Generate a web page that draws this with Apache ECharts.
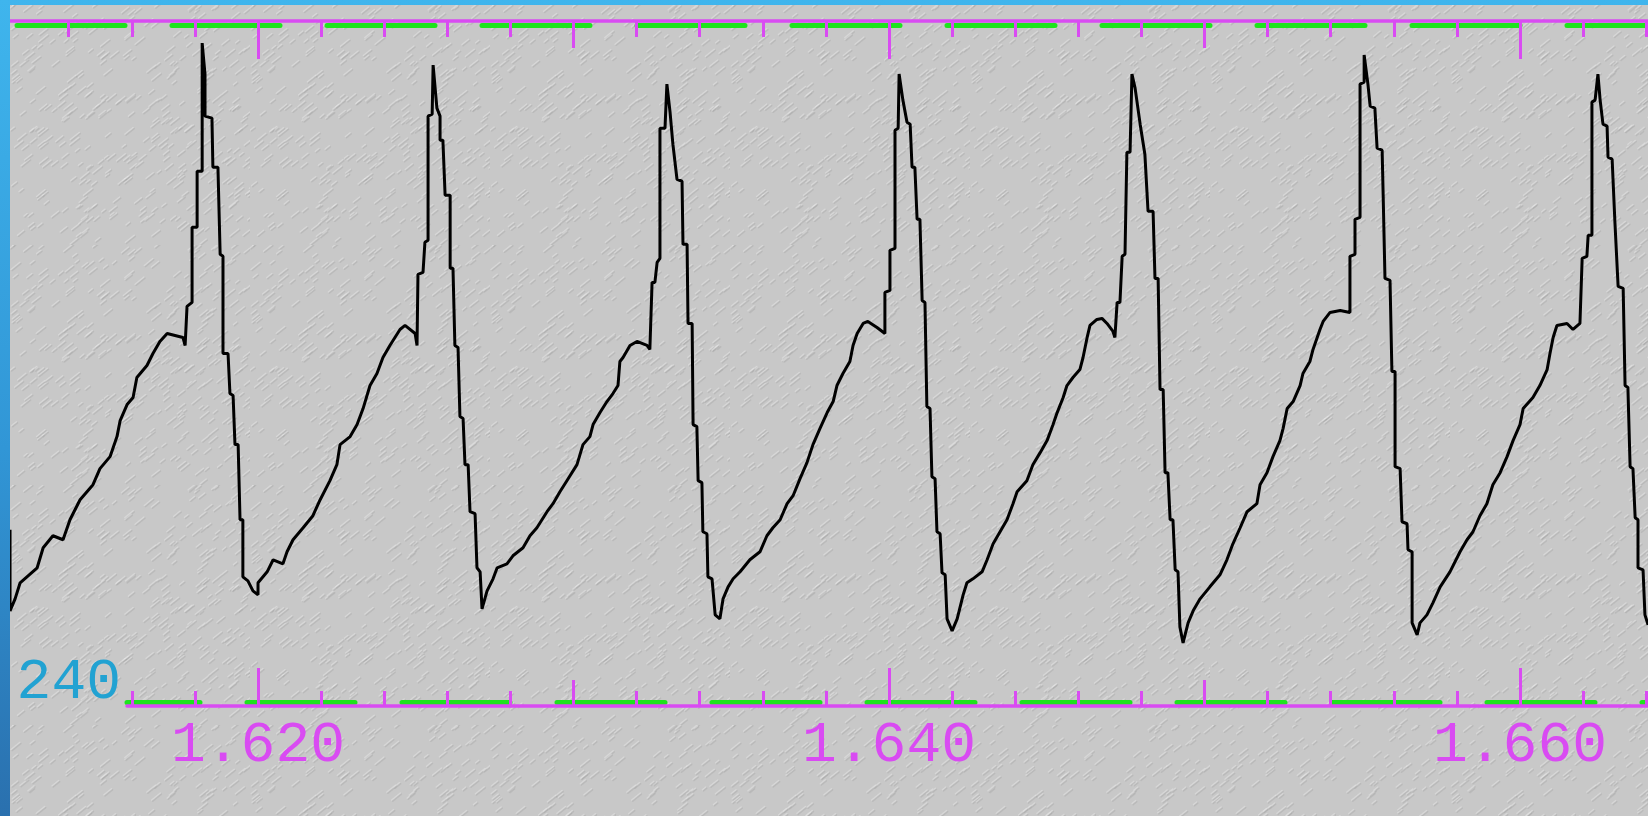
<!DOCTYPE html>
<html>
<head>
<meta charset="utf-8">
<script src="https://cdn.jsdelivr.net/npm/echarts@6/dist/echarts.min.js"></script>
<style>
  html, body {
    margin: 0;
    width: 1648px;
    height: 816px;
    overflow: hidden;
    background: linear-gradient(180deg, #3fb5ed 0%, #3196d6 55%, #2a70ae 100%);
  }
  #trace {
    position: absolute;
    left: 10px;
    top: 5px;
    width: 1638px;
    height: 811px;
    background-color: #c8c8c8;
  }
</style>
</head>
<body>
<div id="trace"></div>
<script>
  // time in ms, labels show seconds
  var timeMs = [
    1612.14, 1612.14, 1612.30, 1612.46, 1613.00, 1613.19, 1613.50, 1613.82, 1614.04, 1614.36,
    1614.77, 1614.99, 1615.31, 1615.53, 1615.63, 1615.85, 1616.04, 1616.16, 1616.48, 1616.67,
    1616.89, 1617.12, 1617.62, 1617.69, 1617.75, 1617.91, 1617.91, 1618.07, 1618.07, 1618.23,
    1618.23, 1618.32, 1618.32, 1618.54, 1618.57, 1618.73, 1618.80, 1618.89, 1618.89, 1619.05,
    1619.11, 1619.21, 1619.27, 1619.37, 1619.43, 1619.52, 1619.52, 1619.68, 1619.84, 1620.00,
    1620.00, 1620.29, 1620.48, 1620.79, 1620.92, 1621.11, 1621.43, 1621.74, 1621.97, 1622.28,
    1622.50, 1622.60, 1622.92, 1623.14, 1623.33, 1623.55, 1623.77, 1623.96, 1624.18, 1624.50,
    1624.66, 1624.98, 1625.04, 1625.07, 1625.23, 1625.29, 1625.39, 1625.39, 1625.52, 1625.55,
    1625.67, 1625.77, 1625.77, 1625.86, 1625.93, 1626.09, 1626.09, 1626.18, 1626.24, 1626.34,
    1626.40, 1626.50, 1626.56, 1626.66, 1626.72, 1626.88, 1626.94, 1627.04, 1627.10, 1627.26,
    1627.45, 1627.58, 1627.89, 1628.08, 1628.40, 1628.62, 1628.84, 1629.16, 1629.35, 1629.57,
    1629.79, 1630.11, 1630.30, 1630.52, 1630.62, 1630.84, 1631.06, 1631.25, 1631.41, 1631.47,
    1631.57, 1631.79, 1632.01, 1632.33, 1632.42, 1632.49, 1632.58, 1632.65, 1632.74, 1632.74,
    1632.90, 1632.96, 1633.06, 1633.15, 1633.28, 1633.44, 1633.47, 1633.60, 1633.63, 1633.76,
    1633.79, 1633.91, 1633.95, 1634.07, 1634.10, 1634.23, 1634.26, 1634.39, 1634.49, 1634.64,
    1634.74, 1634.90, 1635.06, 1635.28, 1635.59, 1635.91, 1636.13, 1636.32, 1636.55, 1636.77,
    1636.96, 1637.18, 1637.40, 1637.59, 1637.81, 1638.04, 1638.23, 1638.35, 1638.54, 1638.76,
    1638.86, 1638.99, 1639.18, 1639.33, 1639.62, 1639.87, 1639.87, 1640.03, 1640.03, 1640.19,
    1640.19, 1640.29, 1640.32, 1640.44, 1640.57, 1640.67, 1640.73, 1640.82, 1640.89, 1640.98,
    1641.05, 1641.14, 1641.20, 1641.30, 1641.36, 1641.46, 1641.52, 1641.62, 1641.68, 1641.78,
    1641.84, 1642.00, 1642.16, 1642.35, 1642.47, 1642.66, 1642.95, 1643.11, 1643.30, 1643.52,
    1643.74, 1643.93, 1644.06, 1644.37, 1644.56, 1644.79, 1645.01, 1645.20, 1645.33, 1645.52,
    1645.64, 1645.83, 1646.05, 1646.15, 1646.28, 1646.37, 1646.59, 1646.75, 1646.91, 1647.10,
    1647.16, 1647.23, 1647.32, 1647.39, 1647.48, 1647.54, 1647.64, 1647.70, 1647.80, 1647.96,
    1648.11, 1648.21, 1648.37, 1648.43, 1648.53, 1648.59, 1648.69, 1648.75, 1648.84, 1648.91,
    1649.00, 1649.07, 1649.16, 1649.22, 1649.32, 1649.48, 1649.64, 1649.86, 1650.17, 1650.49,
    1650.71, 1650.90, 1651.13, 1651.35, 1651.66, 1651.76, 1651.98, 1652.17, 1652.39, 1652.49,
    1652.62, 1652.81, 1653.03, 1653.12, 1653.34, 1653.44, 1653.66, 1653.76, 1653.98, 1654.30,
    1654.61, 1654.61, 1654.77, 1654.77, 1654.93, 1654.93, 1655.06, 1655.06, 1655.18, 1655.25,
    1655.40, 1655.47, 1655.63, 1655.66, 1655.72, 1655.88, 1655.94, 1656.04, 1656.04, 1656.20,
    1656.26, 1656.42, 1656.45, 1656.58, 1656.58, 1656.74, 1656.83, 1657.05, 1657.24, 1657.47,
    1657.78, 1658.10, 1658.32, 1658.51, 1658.73, 1658.95, 1659.14, 1659.37, 1659.59, 1659.78,
    1660.00, 1660.10, 1660.41, 1660.63, 1660.86, 1660.95, 1661.05, 1661.17, 1661.49, 1661.68,
    1661.90, 1661.97, 1662.12, 1662.16, 1662.28, 1662.28, 1662.38, 1662.47, 1662.54, 1662.63,
    1662.76, 1662.79, 1662.92, 1663.01, 1663.11, 1663.27, 1663.33, 1663.42, 1663.49, 1663.58,
    1663.65, 1663.74, 1663.74, 1663.90, 1663.96, 1664.06
  ]
  var signal = [
    257.2, 249.1, 250.3, 251.9, 253.4, 255.4, 256.6, 256.2, 258.2, 260.2,
    261.7, 263.3, 264.5, 266.5, 268.1, 269.7, 270.4, 272.4, 273.6, 274.8,
    276.0, 276.8, 276.4, 275.6, 279.5, 279.9, 287.4, 287.4, 293.0, 293.0,
    305.8, 302.7, 298.5, 298.3, 293.4, 293.4, 284.7, 284.5, 274.8, 274.8,
    270.8, 270.6, 265.7, 265.7, 258.2, 258.2, 252.5, 252.1, 251.1, 250.7,
    251.9, 253.0, 254.2, 253.8, 255.0, 256.2, 257.4, 258.6, 260.2, 262.1,
    263.7, 265.7, 266.5, 267.7, 269.3, 271.6, 272.8, 274.4, 275.6, 277.2,
    277.6, 276.8, 275.6, 282.7, 282.9, 285.9, 286.1, 298.5, 298.7, 303.6,
    299.3, 298.5, 296.1, 296.1, 290.6, 290.6, 283.3, 283.3, 275.6, 275.4,
    268.5, 268.3, 263.7, 263.7, 259.0, 258.8, 253.4, 253.0, 249.3, 251.1,
    252.3, 253.4, 253.8, 254.6, 255.4, 256.6, 257.4, 259.0, 259.8, 261.0,
    262.1, 263.7, 265.7, 266.5, 267.7, 268.9, 270.0, 270.8, 271.6, 274.0,
    274.4, 275.6, 276.0, 275.6, 275.2, 281.9, 281.9, 283.9, 284.3, 297.3,
    297.3, 301.7, 298.9, 295.7, 292.2, 292.0, 285.7, 285.7, 277.8, 277.8,
    267.7, 267.5, 262.1, 261.9, 257.0, 256.8, 252.5, 252.3, 248.7, 248.3,
    250.3, 251.5, 252.3, 253.0, 254.2, 255.0, 256.6, 257.4, 258.2, 259.8,
    260.6, 262.3, 263.9, 265.7, 267.3, 268.9, 270.0, 271.6, 272.8, 274.0,
    275.6, 276.8, 277.8, 278.0, 277.4, 276.8, 280.9, 281.1, 285.1, 285.3,
    297.1, 297.3, 302.7, 300.1, 297.9, 297.7, 293.4, 293.4, 288.2, 288.2,
    280.1, 279.9, 269.5, 269.3, 262.5, 262.3, 257.0, 256.8, 252.9, 252.7,
    248.3, 247.1, 248.3, 250.7, 251.9, 252.3, 253.0, 254.2, 255.8, 257.0,
    258.2, 259.8, 261.0, 262.1, 263.7, 264.9, 266.1, 267.7, 268.9, 270.4,
    271.6, 272.4, 273.2, 274.4, 276.4, 277.6, 278.2, 278.3, 277.8, 277.0,
    276.4, 279.9, 279.9, 284.5, 284.7, 294.9, 294.9, 302.7, 301.3, 297.7,
    294.7, 289.0, 289.0, 282.3, 282.3, 271.2, 271.2, 262.9, 262.9, 258.2,
    258.2, 253.2, 253.0, 247.5, 245.9, 247.9, 249.1, 250.3, 251.5, 252.7,
    254.2, 255.8, 257.4, 259.0, 259.8, 261.7, 262.9, 264.5, 266.1, 267.3,
    269.3, 270.0, 271.6, 272.8, 274.0, 275.2, 277.2, 278.0, 278.9, 279.1,
    278.9, 284.5, 284.7, 288.2, 288.4, 301.7, 301.9, 304.6, 301.7, 299.5,
    299.3, 295.3, 295.1, 291.0, 282.3, 282.1, 273.0, 273.0, 263.5, 263.3,
    258.0, 257.8, 255.2, 255.0, 247.9, 246.7, 247.9, 248.7, 249.9, 251.5,
    253.0, 255.0, 256.2, 257.0, 258.6, 259.8, 261.7, 262.9, 264.5, 266.1,
    267.7, 269.3, 270.4, 271.6, 273.2, 274.8, 276.4, 277.6, 277.8, 277.2,
    277.8, 284.3, 284.5, 286.6, 286.6, 299.9, 300.1, 302.7, 300.1, 297.7,
    297.5, 294.4, 294.2, 287.8, 281.5, 281.3, 271.6, 271.4, 263.5, 263.3,
    258.4, 258.2, 253.4, 253.2, 248.7, 247.7
  ]

  var shortTicks = [1614, 1616, 1618, 1620, 1622, 1624, 1626, 1628, 1630, 1632, 1634, 1636, 1638,
    1640, 1642, 1644, 1646, 1648, 1650, 1652, 1654, 1656, 1658, 1660, 1662, 1664]
  var midTicks = [1630, 1650]
  var longTicks = [1620, 1640, 1660]
  var yLabels = [240]

  var X_MIN = 1612.139, X_MIN_LOW = 1615.848, X_MAX = 1664.057
  var Y_MIN = 240, Y_MAX = 308
  var MAGENTA = '#d94bf2'
  var GREEN = '#1ee41e'
  var FONT = 'Liberation Mono'

  // soft embossed paper texture behind the plot (decoration only)
  function paperTexture() {
    var c = document.createElement('canvas')
    c.width = 240
    c.height = 240
    var g = c.getContext('2d')
    g.fillStyle = '#c8c8c8'
    g.fillRect(0, 0, 240, 240)
    var s = 12345
    function next() { s = (s * 1103515245 + 12345) % 2147483648; return s / 2147483648 }
    g.lineWidth = 1.6
    g.lineCap = 'round'
    for (var i = 0; i < 380; i++) {
      var x = next() * 240, y = next() * 240, len = 3 + next() * 6
      for (var j = 0; j < 2; j++) {
        g.strokeStyle = j === 0 ? 'rgba(232,232,232,0.45)' : 'rgba(160,160,160,0.35)'
        g.beginPath()
        g.moveTo(x + j, y + j)
        g.lineTo(x + len + j, y - len * 0.8 + j)
        g.stroke()
      }
    }
    return c.toDataURL()
  }
  document.getElementById('trace').style.backgroundImage = 'url(' + paperTexture() + ')'

  var points = timeMs.map(function (t, i) { return [t, signal[i]] })

  function tickAxis(grid, pos, min, ticks, len, showLine, labels) {
    return {
      type: 'value', gridIndex: grid, position: pos, min: min, max: X_MAX,
      axisLine: { show: showLine, lineStyle: { color: MAGENTA, width: 3.5 } },
      axisTick: { show: true, inside: true, length: len, customValues: ticks,
        lineStyle: { color: MAGENTA, width: 3 } },
      axisLabel: labels ? {
        show: true, customValues: labels, margin: 11,
        color: MAGENTA, fontFamily: FONT, fontSize: 58,
        formatter: function (v) { return (v / 1000).toFixed(3) }
      } : { show: false },
      splitLine: { show: false }
    }
  }

  function dashAxis(grid, pos, min, offset, dashOffset) {
    return {
      type: 'value', gridIndex: grid, position: pos, min: min, max: X_MAX, offset: offset,
      axisLine: { show: true, lineStyle: { color: GREEN, width: 5, type: [108, 47], dashOffset: dashOffset } },
      axisTick: { show: false }, axisLabel: { show: false }, splitLine: { show: false }
    }
  }

  var chart = echarts.init(document.getElementById('trace'))
  chart.setOption({
    animation: false,
    grid: [
      { left: 0, right: 0, top: 16, bottom: 114 },
      { left: 117, right: 0, top: 16, bottom: 110 }
    ],
    xAxis: [
      dashAxis(0, 'top', X_MIN, -4.5, 148),
      tickAxis(0, 'top', X_MIN, shortTicks, 16, true),
      tickAxis(0, 'top', X_MIN, midTicks, 27, false),
      tickAxis(0, 'top', X_MIN, longTicks, 38, false),
      dashAxis(1, 'bottom', X_MIN_LOW, -4, 35),
      tickAxis(1, 'bottom', X_MIN_LOW, shortTicks.filter(function (v) { return v >= 1616 }), 15, true),
      tickAxis(1, 'bottom', X_MIN_LOW, midTicks, 26, false),
      tickAxis(1, 'bottom', X_MIN_LOW, longTicks, 38, false, longTicks)
    ],
    yAxis: [
      { type: 'value', gridIndex: 0, min: Y_MIN, max: Y_MAX, show: false },
      {
        type: 'value', gridIndex: 1, min: Y_MIN, max: Y_MAX,
        axisLine: { show: false }, axisTick: { show: false }, splitLine: { show: false },
        axisLabel: {
          show: true, customValues: yLabels, margin: 6, verticalAlign: 'bottom', lineHeight: 46,
          color: '#22a2d2', fontFamily: FONT, fontSize: 58
        }
      }
    ],
    series: [
      {
        type: 'line',
        xAxisIndex: 1,
        yAxisIndex: 0,
        data: points,
        showSymbol: false,
        lineStyle: { color: '#000', width: 3 },
        z: 1
      }
    ]
  })
</script>
</body>
</html>
